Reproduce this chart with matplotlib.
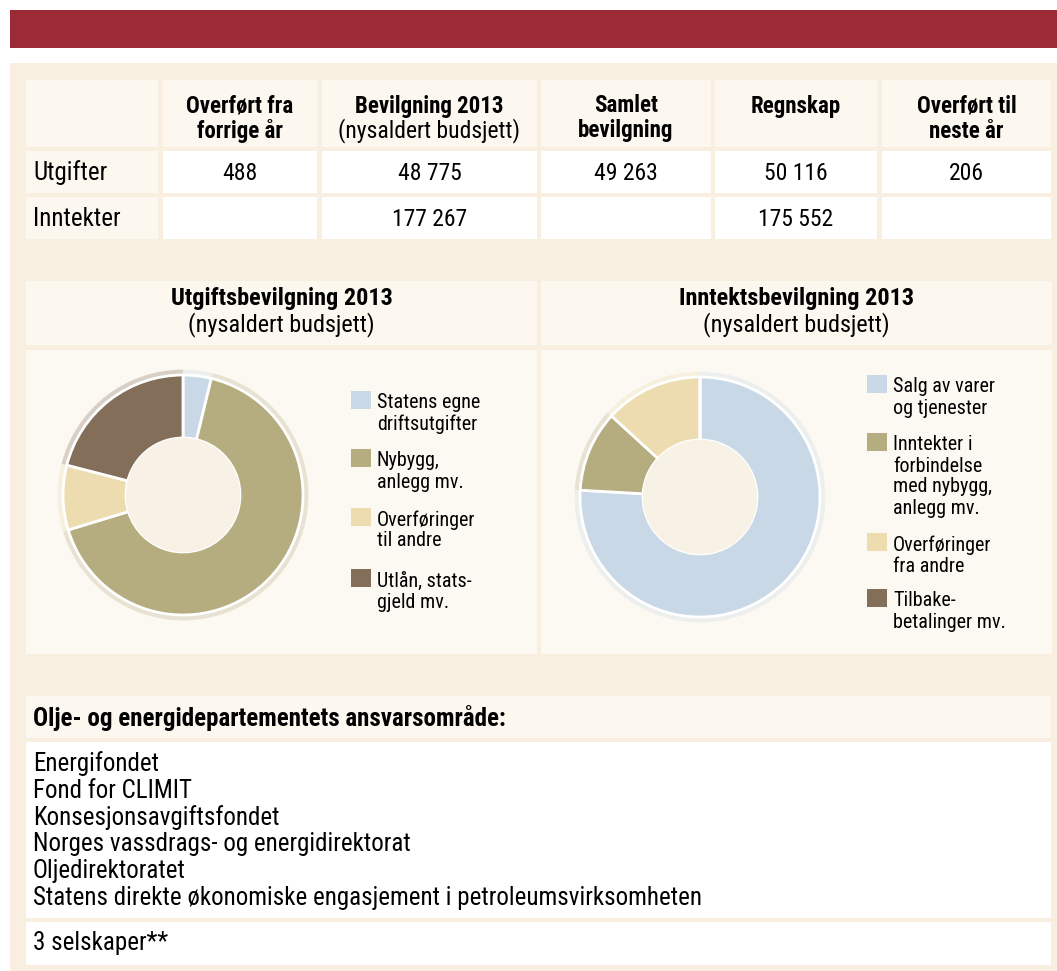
import numpy as np
import matplotlib.pyplot as plt
import matplotlib.colors as mc
from matplotlib.patches import Rectangle
from matplotlib import font_manager

# Data
kolonner = ['Overført fra\nforrige år', 'Bevilgning 2013\n(nysaldert budsjett)',
            'Samlet\nbevilgning', 'Regnskap', 'Overført til\nneste år']
rader = ['Utgifter', 'Inntekter']
utgifter = ['488', '48 775', '49 263', '50 116', '206']
inntekter = ['', '177 267', '', '175 552', '']

utg_navn = ['Statens egne\ndriftsutgifter', 'Nybygg,\nanlegg mv.',
            'Overføringer\ntil andre', 'Utlån, stats-\ngjeld mv.']
utg_andel = [3.8, 66.5, 8.7, 21.0]

inn_navn = ['Salg av varer\nog tjenester', 'Inntekter i\nforbindelse\nmed nybygg,\nanlegg mv.',
            'Overføringer\nfra andre', 'Tilbake-\nbetalinger mv.']
inn_andel = [75.9, 10.9, 13.2, 0.0]

ansvar_tittel = 'Olje- og energidepartementets ansvarsområde:'
ansvar = ['Energifondet', 'Fond for CLIMIT', 'Konsesjonsavgiftsfondet',
          'Norges vassdrags- og energidirektorat', 'Oljedirektoratet',
          'Statens direkte økonomiske engasjement i petroleumsvirksomheten']
selskaper = '3 selskaper**'

# Farger
rod = '#9c2a37'
bakgrunn = '#f8efe0'
krem = '#fcf8f0'
diagram_bg = '#fcf9f3'
senter = '#f8f1e5'
farger = ['#c9d8e6', '#b5ad80', '#eddcb0', '#836e5a']

# smal skrift hvis den finnes
fonter = font_manager.fontManager.ttflist
navn = set(f.name for f in fonter)
plt.rcParams['font.family'] = ['DejaVu Sans']
for kand in ['Liberation Sans Narrow', 'Roboto Condensed', 'Open Sans Condensed']:
    if kand in navn:
        plt.rcParams['font.family'] = [kand, 'DejaVu Sans']
        break
else:
    if any(f.name == 'DejaVu Sans' and 'condensed' in str(f.stretch) for f in fonter):
        plt.rcParams['font.stretch'] = 'condensed'

W, H = 1057, 971
fig = plt.figure(figsize=(W / 100, H / 100), dpi=100)
ax = fig.add_axes([0, 0, 1, 1])
ax.set_xlim(0, W)
ax.set_ylim(H, 0)
ax.axis('off')


def boks(x0, y0, x1, y1, farge):
    ax.add_patch(Rectangle((x0, y0), x1 - x0, y1 - y0, facecolor=farge, edgecolor='none'))


boks(10, 10, W, 48, rod)
boks(10, 63, W, H, bakgrunn)

# Tabell
kol_x = [(163, 317), (322, 537), (541, 711), (715, 877), (882, 1051)]
boks(26, 80, 158, 147, krem)
for (a, b) in kol_x:
    boks(a, 80, b, 147, krem)
boks(26, 151, 158, 193, krem)
boks(26, 197, 158, 239, krem)
for (a, b) in kol_x:
    boks(a, 151, b, 193, 'white')
    boks(a, 197, b, 239, 'white')

for i, k in enumerate(kolonner):
    xc = sum(kol_x[i]) / 2
    for j, linje in enumerate(k.split('\n')):
        if linje.startswith('('):
            ax.text(xc, 106 + 25 * j, linje, ha='center', va='center', fontsize=17)
        else:
            ax.text(xc, 106 + 25 * j, linje, ha='center', va='center', fontsize=16.5,
                    fontweight='bold')

for r, (rad, verdier) in enumerate(zip(rader, [utgifter, inntekter])):
    y = 173 + 46 * r
    ax.text(33, y, rad, ha='left', va='center', fontsize=18)
    for i, v in enumerate(verdier):
        ax.text(sum(kol_x[i]) / 2, y, v, ha='center', va='center', fontsize=17)

# Diagramseksjon
titler = ['Utgiftsbevilgning 2013', 'Inntektsbevilgning 2013']
celler = [(26, 537), (541, 1052)]
for (a, b), t in zip(celler, titler):
    boks(a, 281, b, 345, krem)
    boks(a, 350, b, 654, diagram_bg)
    xc = (a + b) / 2
    ax.text(xc, 299, t, ha='center', va='center', fontsize=17.5, fontweight='bold')
    ax.text(xc, 325, '(nysaldert budsjett)', ha='center', va='center', fontsize=17.5)


def bland(c, andel):
    a = np.array(mc.to_rgb(c))
    b = np.array(mc.to_rgb(diagram_bg))
    return tuple(andel * a + (1 - andel) * b)


def smultring(cx, cy, verdier):
    R = 120
    m = 128
    dax = fig.add_axes([(cx - m) / W, 1 - (cy + m) / H, 2 * m / W, 2 * m / H])
    dax.set_aspect('equal')
    skygge = [bland(c, 0.3) for c in farger]
    dax.pie(verdier, colors=skygge, startangle=90, counterclock=False, radius=1.045,
            wedgeprops=dict(width=0.3, linewidth=0))
    dax.pie(verdier, colors=farger, startangle=90, counterclock=False, radius=1.0,
            wedgeprops=dict(width=1 - 57 / R, edgecolor='white', linewidth=2))
    dax.add_patch(plt.Circle((0, 0), 57 / R - 0.005, color=senter, zorder=5))
    dax.set_xlim(-m / R, m / R)
    dax.set_ylim(-m / R, m / R)
    dax.axis('off')


smultring(183, 495, utg_andel)
smultring(700, 497, inn_andel)


def forklaring(x, topper, etiketter):
    for topp, tekst, c in zip(topper, etiketter, farger):
        boks(x, topp, x + 20, topp + 18, c)
        for j, linje in enumerate(tekst.split('\n')):
            ax.text(x + 26, topp + 12 + 21 * j, linje, ha='left', va='center', fontsize=14.5)


forklaring(351, [391, 449, 508, 569], utg_navn)
forklaring(867, [375, 433, 533, 589], inn_navn)

# Ansvarsområde
boks(26, 696, 1051, 738, krem)
boks(26, 742, 1051, 918, 'white')
boks(26, 922, 1051, 965, 'white')
ax.text(33, 718, ansvar_tittel, ha='left', va='center', fontsize=18, fontweight='bold')
for j, linje in enumerate(ansvar):
    ax.text(33, 764 + 26.8 * j, linje, ha='left', va='center', fontsize=18)
ax.text(33, 943, selskaper, ha='left', va='center', fontsize=18)

fig.savefig('out.png', dpi=100)
